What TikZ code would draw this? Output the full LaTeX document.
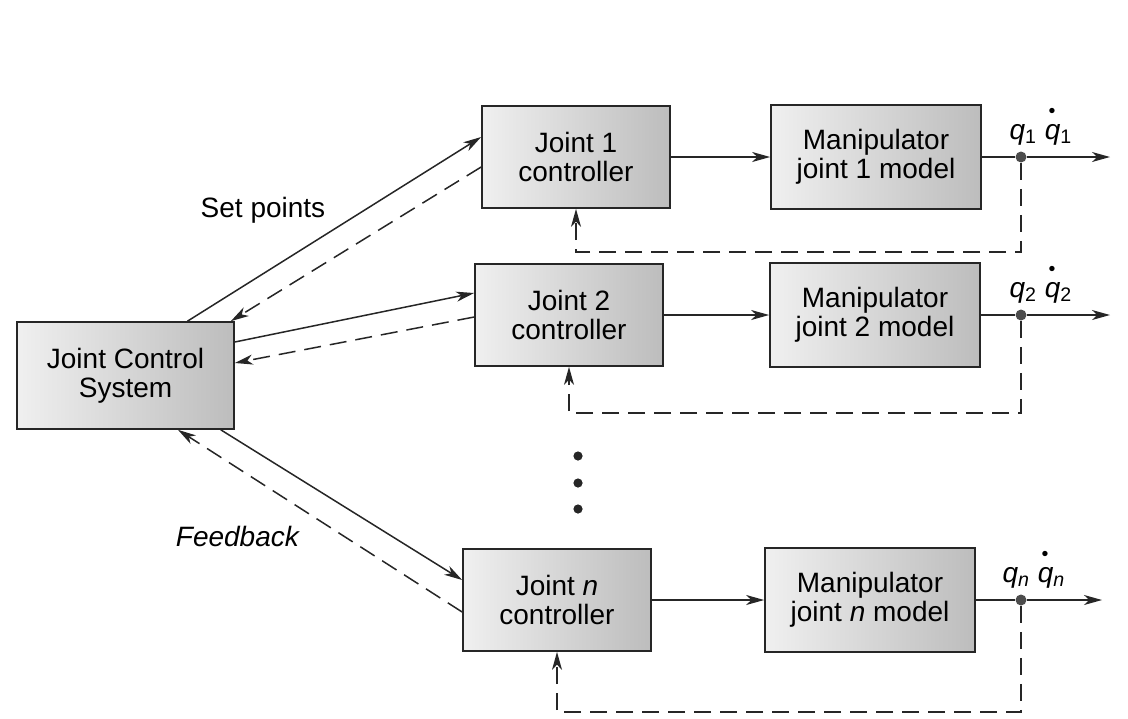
\documentclass[tikz,border=0pt]{standalone}
\usepackage{fontspec}
\setmainfont{Liberation Sans}
\usetikzlibrary{arrows.meta,calc}

% q with a dot placed above it (time derivative)
\newcommand\qdot{\makebox[0pt][l]{\hspace{0.13em}\raisebox{0.78em}{\scalebox{0.7}{\textbullet}}}\textit{q}}

\begin{document}
\begin{tikzpicture}[x=0.5pt,y=-0.5pt,
  font=\fontsize{14}{14.5}\selectfont,
  blk/.style={draw=black!85, line width=0.85pt, left color=gray!12, right color=gray!52,
              align=center, inner sep=0pt},
  ctrl/.style={blk, minimum width=94pt, minimum height=51pt},
  model/.style={blk, minimum width=105pt, minimum height=52pt},
  link/.style={draw=black!85, line width=0.75pt, -{Stealth[length=9pt,width=5pt,inset=2.6pt]}},
  back/.style={link, dash pattern=on 8.5pt off 4.5pt},
  plain/.style={draw=black!85, line width=0.75pt},
  tap/.style={circle, fill=black!70, inner sep=0pt, minimum size=5.5pt},
  qlab/.style={anchor=base},
]
\useasboundingbox (0,0) rectangle (1128,718);

% central unit
\node[blk, minimum width=108.5pt, minimum height=53.5pt] (jcs) at (125.5,375.5)
  {Joint Control\\System};

% joint controllers and plant models
\node[ctrl]  (c1) at (576,157) {Joint 1\\controller};
\node[model] (m1) at (876,157) {Manipulator\\joint 1 model};
\node[ctrl]  (c2) at (569,315) {Joint 2\\controller};
\node[model] (m2) at (875,315) {Manipulator\\joint 2 model};
\node[ctrl]  (cn) at (557,600) {Joint \textit{n}\\controller};
\node[model] (mn) at (870,600) {Manipulator\\joint \textit{n} model};

% vertical ellipsis between joint 2 and joint n
\foreach \y in {456,483,509} \fill[black!85] (578,\y) circle (2.3pt);

% output taps
\node[tap] (t1) at (1021,157) {};
\node[tap] (t2) at (1021,315) {};
\node[tap] (tn) at (1021,600) {};
\coordinate (o1) at (1110,157);
\coordinate (o2) at (1110,315);
\coordinate (on) at (1102,600);
\coordinate (f1) at (1021,252);
\coordinate (f2) at (1021,413);
\coordinate (fn) at (1021,712);

% output labels
\node[qlab] (q1) at (1041,139) {\textit{q}\textsubscript{1} \qdot\textsubscript{1}};
\node[qlab] (q2) at (1041,297) {\textit{q}\textsubscript{2} \qdot\textsubscript{2}};
\node[qlab] (qn) at (1034,582) {\textit{q}\textsubscript{\textit{n}} \qdot\textsubscript{\textit{n}}};

% forward paths
\draw[link] (c1.east) -- (m1.west);
\draw[link] (c2.east) -- (m2.west);
\draw[link] (cn.east) -- (mn.west);
\draw[plain] (m1.east) -- (t1);
\draw[plain] (m2.east) -- (t2);
\draw[plain] (mn.east) -- (tn);
\draw[link] (t1) -- (o1);
\draw[link] (t2) -- (o2);
\draw[link] (tn) -- (on);

% local feedback loops
\draw[back] (t1) -- (f1) -| (c1.south);
\draw[back] (t2) -- (f2) -| (c2.south);
\draw[back] (tn) -- (fn) -| (cn.south);

% set points and feedback between the central unit and the controllers
\draw[link] ([xshift=31pt]jcs.north) -- ([yshift=10pt]c1.west);
\draw[back] ([yshift=-5pt]c1.west) -- ([xshift=-2pt]jcs.north east);
\draw[link] ([yshift=16.75pt]jcs.east) -- ([yshift=11pt]c2.west);
\draw[back] ([yshift=-1pt]c2.west) -- ([yshift=6.25pt]jcs.east);
\draw[link] ([xshift=-7pt]jcs.south east) -- ([yshift=10pt]cn.west);
\draw[back] ([yshift=-6pt]cn.west) -- ([xshift=26.25pt]jcs.south);

\node (sp) at (263,210) {Set points};
\node (fb) at (238,536) {\textit{Feedback}};
\end{tikzpicture}
\end{document}
